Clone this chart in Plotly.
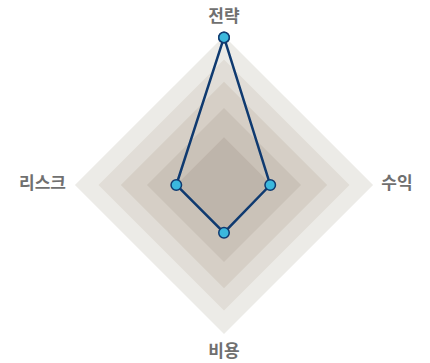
import plotly.graph_objects as go

# Axes of the radar, clockwise from the top
categories = ["전략", "수익", "비용", "리스크"]
# Scores on a 0–1 scale
scores = [0.99, 0.31, 0.32, 0.32]
# Background band levels, outermost first
band_levels = [1.0, 0.842, 0.692, 0.517, 0.32]
band_colors = ["#ecebe7", "#e1ddd7", "#d6cfc6", "#cac2b8", "#beb5ab"]

# Where each axis name sits, just outside the outer band
label_radius = [1.065, 1.055, 1.068, 1.06]
label_anchor = ["top center", "middle right", "bottom center", "middle left"]

fig = go.Figure()

# Concentric filled bands behind the data
for level, color in zip(band_levels, band_colors):
    fig.add_trace(go.Scatterpolar(
        r=[level] * (len(categories) + 1),
        theta=categories + categories[:1],
        mode="lines",
        line=dict(width=0, color=color),
        fill="toself",
        fillcolor=color,
        hoverinfo="skip",
        showlegend=False,
    ))

# Score polygon
fig.add_trace(go.Scatterpolar(
    r=scores + scores[:1],
    theta=categories + categories[:1],
    mode="lines+markers",
    line=dict(color="#0f3a70", width=2.5),
    marker=dict(size=10.5, color="#3bb8dd", line=dict(color="#0f3a70", width=1.5)),
    showlegend=False,
))

# Axis names
fig.add_trace(go.Scatterpolar(
    r=label_radius,
    theta=categories,
    mode="text",
    text=categories,
    textposition=label_anchor,
    textfont=dict(family="Noto Sans CJK KR", size=17, color="#707070", weight="bold"),
    cliponaxis=False,
    hoverinfo="skip",
    showlegend=False,
))

fig.update_layout(
    width=430,
    height=363,
    margin=dict(l=59, r=41, t=21, b=14),
    paper_bgcolor="white",
    plot_bgcolor="white",
    font=dict(family="Noto Sans CJK KR", color="#707070"),
    polar=dict(
        bgcolor="rgba(0,0,0,0)",
        radialaxis=dict(visible=False, range=[0, 1.1]),
        angularaxis=dict(
            direction="clockwise",
            rotation=90,
            categoryorder="array",
            categoryarray=categories,
            showgrid=False,
            showline=False,
            showticklabels=False,
            ticks="",
        ),
        gridshape="linear",
    ),
)

fig.write_html("out.html")
